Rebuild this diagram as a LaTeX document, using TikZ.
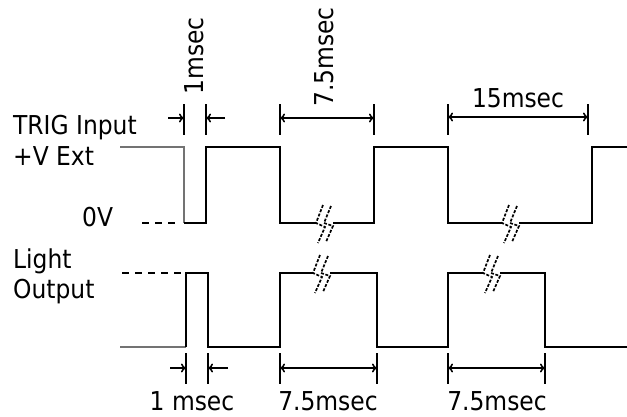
\documentclass[tikz,border=0pt]{standalone}
\usepackage{fontspec}
\setmainfont{DejaVu Sans Condensed}
\usetikzlibrary{arrows.meta}
\begin{document}
\begin{tikzpicture}[x=1pt,y=-1pt,
    wave/.style={line width=2pt,line join=miter},
    lead/.style={line width=1.5pt,black!55},
    dim/.style={line width=1.6pt},
    level/.style={line width=1.6pt,dash pattern=on 7pt off 6pt},
    brk/.style={line width=1.7pt,dash pattern=on 3pt off 1.6pt},
    lbl/.style={inner sep=0pt,font=\fontsize{26}{30}\selectfont},
    >={To[length=5pt,width=9pt]}]
    \useasboundingbox (0,0) rectangle (627,416);
    % labels on the left
    \node[lbl,anchor=base west] (trig) at (13,134) {TRIG Input};
    \node[lbl,anchor=base west] (vext) at (13,165) {+V Ext};
    \node[lbl,anchor=base west] (zero) at (82,226) {0V};
    \node[lbl,anchor=base west] (light) at (13,268) {Light};
    \node[lbl,anchor=base west] (outp) at (13,298) {Output};
    % trigger input
    \draw[lead] (120,147) -- (184,147) -- (184,223);
    \draw[wave] (184,223) -- (206,223) -- (206,147) -- (280,147) -- (280,223) -- (316,223);
    \draw[wave] (333,223) -- (374,223) -- (374,147) -- (448,147) -- (448,223) -- (502,223);
    \draw[wave] (519,223) -- (592,223) -- (592,147) -- (627,147);
    \draw[level] (142,223) -- (178,223);
    % light output
    \draw[lead] (120,347) -- (186,347);
    \draw[wave] (186,347) -- (186,273) -- (208,273) -- (208,347) -- (280,347) -- (280,273) -- (313,273);
    \draw[wave] (330,273) -- (377,273) -- (377,347) -- (448,347) -- (448,273) -- (483,273);
    \draw[wave] (500,273) -- (545,273) -- (545,347) -- (627,347);
    \draw[level] (122,273) -- (182,273);
    % break marks
    \foreach \bx/\by in {316/223, 502/223, 313/273, 483/273} {
        \draw[brk] (\bx+7,\by-18) -- (\bx,\by) -- (\bx+9,\by+4) -- (\bx+2,\by+20);
        \draw[brk] (\bx+15,\by-17) -- (\bx+8,\by) -- (\bx+17,\by+3) -- (\bx+10,\by+19);
    }
    % top dimensions
    \foreach \tx in {184, 206, 280, 374, 448, 588}
        \draw[dim] (\tx,104) -- (\tx,135);
    \draw[dim,->] (168,118) -- (184,118);
    \draw[dim,->] (225,118) -- (206,118);
    \draw[dim,<->] (280,118) -- (374,118);
    \draw[dim,<->] (448,117) -- (588,117);
    \node[lbl,rotate=90] (t1) at (194,56) {1msec};
    \node[lbl,rotate=90] (t75) at (324,57) {7.5msec};
    \node[lbl,anchor=base] (t15) at (518,107) {15msec};
    % bottom dimensions
    \foreach \tx in {186, 208, 280, 377, 448, 545}
        \draw[dim] (\tx,353) -- (\tx,384);
    \draw[dim,->] (170,368) -- (186,368);
    \draw[dim,->] (228,368) -- (208,368);
    \draw[dim,<->] (280,368) -- (377,368);
    \draw[dim,<->] (448,368) -- (545,368);
    \node[lbl,anchor=base] (b1) at (192,410) {1 msec};
    \node[lbl,anchor=base] (b75a) at (328,410) {7.5msec};
    \node[lbl,anchor=base] (b75b) at (497,410) {7.5msec};
\end{tikzpicture}
\end{document}
